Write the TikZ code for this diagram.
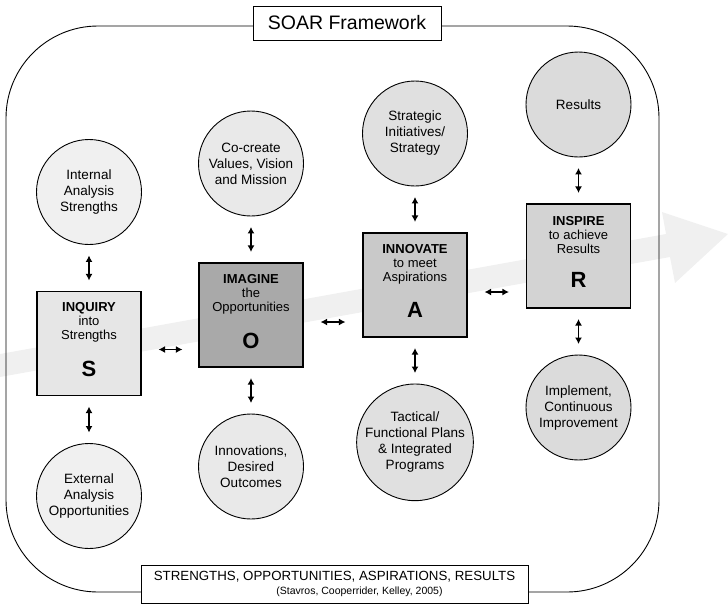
\documentclass[tikz,border=0pt]{standalone}
\usepackage{fontspec}
\setmainfont{Liberation Sans}
\usepackage{xcolor}
\usetikzlibrary{arrows.meta, positioning}

\definecolor{inqfill}{HTML}{E6E6E6}
\definecolor{imgfill}{HTML}{A9A9A9}
\definecolor{innfill}{HTML}{C9C9C9}
\definecolor{insfill}{HTML}{D3D3D3}
\definecolor{circS}{HTML}{F0F0F0}
\definecolor{circO}{HTML}{E9E9E9}
\definecolor{circA}{HTML}{E0E0E0}
\definecolor{circR}{HTML}{DBDBDB}

\newcommand{\stageletter}[1]{{\fontsize{22}{14}\selectfont\bfseries #1}}

\begin{document}
\begin{tikzpicture}[x=1pt, y=-1pt,
    stage/.style={draw, line width=1.1pt, minimum size=104pt, inner sep=0pt, align=center, font=\fontsize{13}{14}\selectfont},
    idea/.style={draw, circle, line width=0.9pt, minimum size=105pt, inner sep=0pt, align=center, font=\fontsize{13.5}{16}\selectfont},
    link/.style={{Latex[length=6.5pt,width=7pt]}-{Latex[length=6.5pt,width=7pt]}, line width=1.4pt},
    tag/.style={draw, fill=white, line width=0.8pt, align=center},
    node distance=46pt]
  \useasboundingbox (0,0) rectangle (728,606);
  % background arrow
  \fill[gray!12] (0,354) -- (666,234) -- (662,212) -- (728,234) -- (675,283) -- (670,257) -- (0,377) -- cycle;
  % frame
  \draw[line width=0.9pt, rounded corners=92pt] (6,26) rectangle (659,592);
  \node[tag, minimum width=188pt, minimum height=34pt, font=\fontsize{19.5}{20}\selectfont] (title) at (347,23) {SOAR Framework};
  \node[tag, minimum width=387pt, minimum height=38pt, inner sep=2pt, font=\fontsize{13.3}{14.5}\selectfont] (source) at (334.5,584)
    {STRENGTHS, OPPORTUNITIES, ASPIRATIONS, RESULTS\\\hspace*{50pt}{\fontsize{10.5}{12}\selectfont(Stavros, Cooperrider, Kelley, 2005)}};

  % the four stages
  \node[stage, fill=inqfill] (S) at (89,343.5) {\textbf{INQUIRY}\\into\\Strengths\\[18pt]\stageletter{S}\\[-6pt]};
  \node[stage, fill=imgfill] (O) at (251,315) {\textbf{IMAGINE}\\the\\Opportunities\\[18pt]\stageletter{O}\\[-6pt]};
  \node[stage, fill=innfill] (A) at (415,285) {\textbf{INNOVATE}\\to meet\\Aspirations\\[18pt]\stageletter{A}\\[-6pt]};
  \node[stage, fill=insfill] (R) at (578.5,256) {\textbf{INSPIRE}\\to achieve\\Results\\[18pt]\stageletter{R}\\[-6pt]};

  % circles above and below
  \node[idea, fill=circS, above=of S] (Sup) {Internal\\Analysis\\Strengths};
  \node[idea, fill=circS, below=47pt of S] (Sdown) {External\\Analysis\\Opportunities};
  \node[idea, fill=circO, above=of O] (Oup) {Co-create\\Values, Vision\\and Mission};
  \node[idea, fill=circO, below=of O] (Odown) {Innovations,\\Desired\\Outcomes};
  \node[idea, fill=circA, above=of A] (Aup) {Strategic\\Initiatives/\\Strategy};
  \node[idea, fill=circA, below=of A] (Adown) {Tactical/\\Functional Plans\\\& Integrated\\Programs};
  \node[idea, fill=circR, above=of R] (Rup) {Results};
  \node[idea, fill=circR, below=of R] (Rdown) {Implement,\\Continuous\\Improvement};

  % links
  \foreach \st in {S,O,A,R} {
    \draw[link, shorten <=10.5pt, shorten >=10.5pt] (\st up.south) -- (\st.north);
    \draw[link, shorten <=10.5pt, shorten >=10.5pt] (\st.south) -- (\st down.north);
  }
  \draw[link, shorten <=17pt, shorten >=16pt] ([yshift=-6pt]S.east) -- ([yshift=-6pt]S.east -| O.west);
  \draw[link, shorten <=17pt, shorten >=17pt] ([yshift=-7pt]O.east) -- ([yshift=-7pt]O.east -| A.west);
  \draw[link, shorten <=17pt, shorten >=17pt] ([yshift=-7pt]A.east) -- ([yshift=-7pt]A.east -| R.west);
\end{tikzpicture}
\end{document}
